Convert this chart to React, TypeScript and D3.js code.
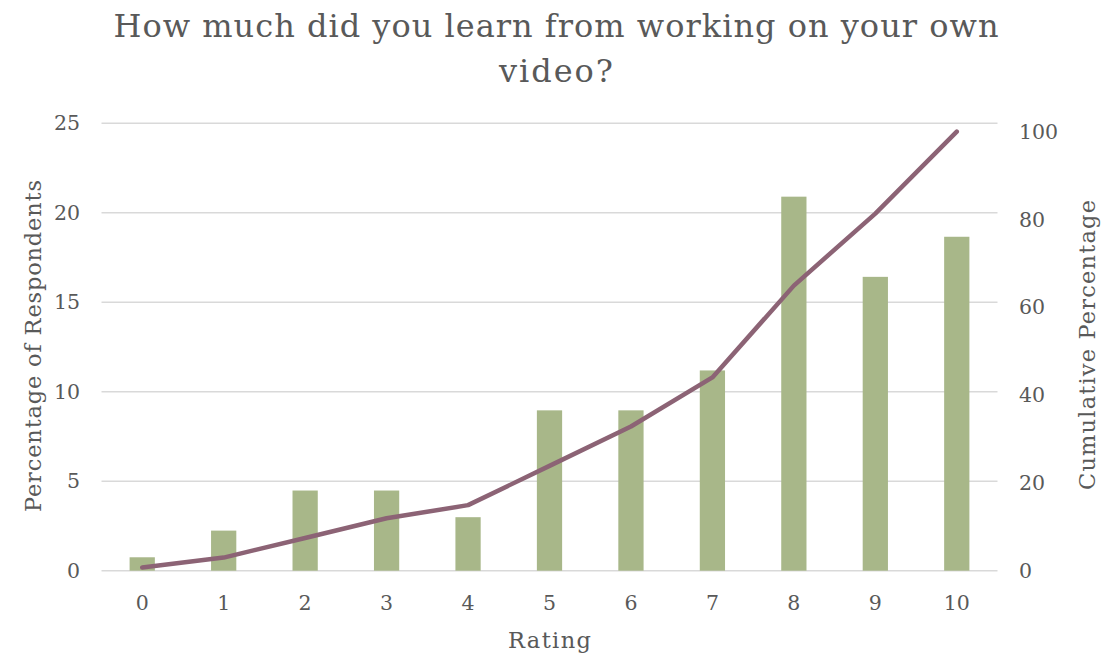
import React from "react";
import * as d3 from "d3";

const ratings = ["0", "1", "2", "3", "4", "5", "6", "7", "8", "9", "10"];
const percentRespondents = [0.75, 2.24, 4.48, 4.48, 2.99, 8.96, 8.96, 11.19, 20.9, 16.42, 18.66];
const cumulativePercent = [0.75, 2.99, 7.46, 11.94, 14.93, 23.88, 32.84, 44.03, 64.93, 81.34, 100];
const leftTicks = [0, 5, 10, 15, 20, 25];
const rightTicks = [0, 20, 40, 60, 80, 100];
const titleLines = ["How much did you learn from working on your own", "video?"];

const W = 1114;
const H = 656;
const FONT = "'DejaVu Serif', serif";
const TEXT = "#595959";
const GRID = "#d9d9d9";
const BAR = "#a8b789";
const LINE = "#8c6375";

export default function App() {
  const left = 101.5, right = 997.5, top = 123.3, bottom = 570.7;
  const x = d3.scaleBand<string>().domain(ratings).range([left, right]).paddingInner(0).paddingOuter(0);
  const yL = d3.scaleLinear().domain([0, 25]).range([bottom, top]);
  const yR = d3.scaleLinear().domain([0, 101.9]).range([bottom, top]);
  const bw = x.bandwidth() * 0.31;
  const cx = (r: string) => (x(r) as number) + x.bandwidth() / 2;
  const line = d3
    .line<number>()
    .x((_, i) => cx(ratings[i]))
    .y((d) => yR(d));

  return (
    <svg width={W} height={H} style={{ position: "absolute", left: 0, top: 0, background: "#fff" }} fontFamily={FONT}>
      <text x={556} y={37} textAnchor="middle" fontSize={32} fill={TEXT} textLength={885} lengthAdjust="spacing">
        {titleLines[0]}
      </text>
      <text x={556} y={82} textAnchor="middle" fontSize={32} fill={TEXT} textLength={114} lengthAdjust="spacing">
        {titleLines[1]}
      </text>
      {leftTicks.map((t) => (
        <line key={t} x1={left} x2={right} y1={yL(t)} y2={yL(t)} stroke={GRID} strokeWidth={1.5} />
      ))}
      {ratings.map((r, i) => (
        <rect key={r} x={cx(r) - bw / 2} y={yL(percentRespondents[i])} width={bw} height={bottom - yL(percentRespondents[i])} fill={BAR} />
      ))}
      <path d={line(cumulativePercent) || ""} fill="none" stroke={LINE} strokeWidth={4.5} strokeLinecap="round" strokeLinejoin="round" />
      {leftTicks.map((t) => (
        <text key={t} x={80} y={yL(t)} dy="0.35em" textAnchor="end" fontSize={20.5} fill={TEXT}>
          {t}
        </text>
      ))}
      {rightTicks.map((t) => (
        <text key={t} x={1019} y={yR(t)} dy="0.35em" textAnchor="start" fontSize={20.5} fill={TEXT}>
          {t}
        </text>
      ))}
      {ratings.map((r) => (
        <text key={r} x={cx(r)} y={603} dy="0.35em" textAnchor="middle" fontSize={20.5} fill={TEXT}>
          {r}
        </text>
      ))}
      <text x={549.5} y={640} dy="0.35em" textAnchor="middle" fontSize={22.5} fill={TEXT} textLength={83} lengthAdjust="spacing">
        Rating
      </text>
      <text transform={`translate(33,346) rotate(-90)`} dy="0.35em" textAnchor="middle" fontSize={22.5} fill={TEXT} textLength={332} lengthAdjust="spacing">
        Percentage of Respondents
      </text>
      <text transform={`translate(1087,345) rotate(-90)`} dy="0.35em" textAnchor="middle" fontSize={22.5} fill={TEXT} textLength={290} lengthAdjust="spacing">
        Cumulative Percentage
      </text>
    </svg>
  );
}
